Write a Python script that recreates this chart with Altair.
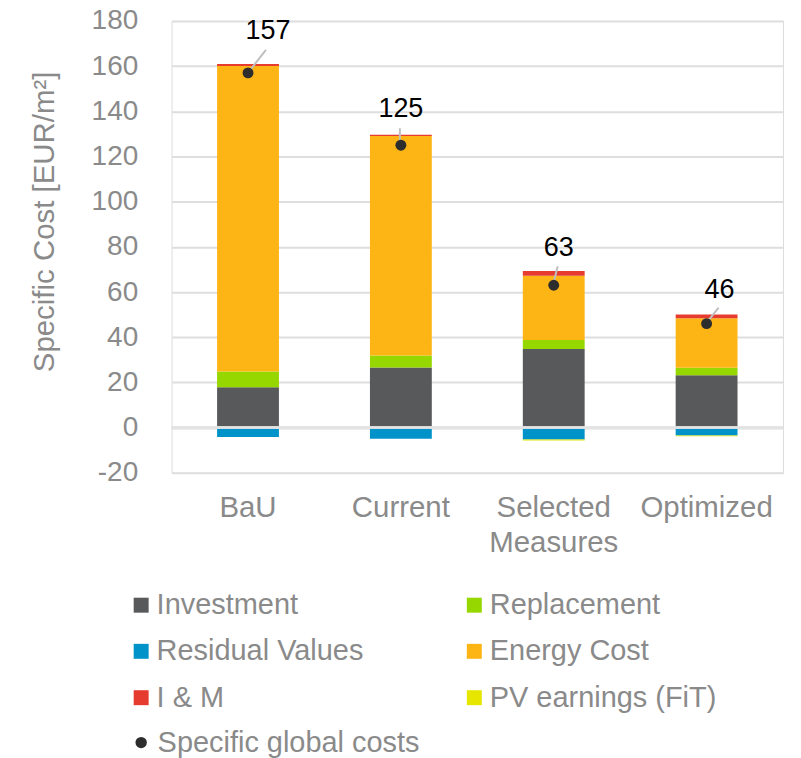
import altair as alt
import pandas as pd

# ---- data ----
categories = ["BaU", "Current", "Selected Measures", "Optimized"]
series_names = ["Investment", "Replacement", "Residual Values", "Energy Cost", "I & M", "PV earnings (FiT)"]
investment = [17.8, 26.6, 34.8, 23.2]
replacement = [7.0, 5.3, 4.0, 3.3]
residual_values = [-4.2, -4.9, -5.3, -3.5]
energy_cost = [135.3, 97.2, 28.4, 21.9]
i_and_m = [0.8, 0.5, 2.1, 1.7]
pv_earnings = [0.0, 0.0, -0.4, -0.3]
global_costs = [157, 125, 63, 46]
y_ticks = [-20, 0, 20, 40, 60, 80, 100, 120, 140, 160, 180]

# ---- style (colours, pixel offsets of the moved data labels and their leader lines) ----
colors = {
    "Investment": "#58595b",
    "Replacement": "#97d700",
    "Residual Values": "#0093c9",
    "Energy Cost": "#fdb515",
    "I & M": "#e63c2f",
    "PV earnings (FiT)": "#e6e600",
}
# legend is filled column by column, so list it in that order to read row by row
legend_order = ["Investment", "Residual Values", "I & M", "Replacement", "Energy Cost", "PV earnings (FiT)"]
label_dx = [20, 0, 5, 13]
label_dy = [-42, -36, -37, -34]
leader_x1 = [3, -1, 0, 1]
leader_y1 = [-4, -4, -3, -2]
leader_x2 = [18, -1, 4, 12]
leader_y2 = [-23, -17, -19, -16]

GRAY = "#8a8a8a"
FONT = "Liberation Sans"

series_values = [investment, replacement, residual_values, energy_cost, i_and_m, pv_earnings]
rows = []
for k, (name, vals) in enumerate(zip(series_names, series_values)):
    for i, c in enumerate(categories):
        rows.append({"category": c, "series": name, "value": vals[i], "order": k})
bars_df = pd.DataFrame(rows)

pts_df = pd.DataFrame({
    "category": categories,
    "cost": global_costs,
    "legend": ["Specific global costs"] * len(categories),
    "ldx": label_dx, "ldy": label_dy,
    "x1": leader_x1, "y1": leader_y1, "x2": leader_x2, "y2": leader_y2,
})

x_enc = alt.X(
    "category:N",
    sort=categories,
    scale=alt.Scale(paddingInner=0, paddingOuter=0),
    axis=alt.Axis(
        title=None, labelAngle=0, labelFontSize=29.5, labelColor=GRAY, labelFont=FONT,
        ticks=False, domain=False, grid=False, labelPadding=21, labelLineHeight=34.5,
        labelExpr="datum.label == 'Selected Measures' ? ['Selected', 'Measures'] : datum.label",
    ),
)

bars = alt.Chart(bars_df).mark_bar(width=62).encode(
    x=x_enc,
    y=alt.Y(
        "value:Q",
        stack="zero",
        scale=alt.Scale(domain=[-20, 180], nice=False),
        axis=alt.Axis(
            values=y_ticks, title="Specific Cost [EUR/m²]", titleFontSize=29.5, titleColor=GRAY,
            titleFont=FONT, titleFontWeight="normal", titleX=-127, titleY=201, titleAngle=270,
            titleBaseline="middle", titleAlign="center",
            labelFontSize=28, labelColor=GRAY, labelFont=FONT, labelPadding=34,
            labelExpr="'' + datum.value",
            ticks=False, domain=False, grid=True, gridColor="#dedede", gridWidth=2,
        ),
    ),
    color=alt.Color(
        "series:N",
        scale=alt.Scale(domain=legend_order, range=[colors[s] for s in legend_order]),
        legend=alt.Legend(
            title=None, orient="none", legendX=-45, legendY=571, columns=2,
            columnPadding=96, rowPadding=16.5, symbolType="square", symbolSize=225,
            symbolStrokeWidth=0, labelFontSize=29, labelColor=GRAY, labelFont=FONT,
            labelOffset=1, labelLimit=400, padding=0,
        ),
    ),
    order=alt.Order("order:Q"),
)

zero_rule = alt.Chart(pts_df).mark_rule(color="#e3e3e3", strokeWidth=2).encode(y=alt.datum(0))

leaders = alt.Chart(pts_df).mark_rule(
    color="#bfbfbf", strokeWidth=2,
    xOffset=alt.expr("datum.x1"), x2Offset=alt.expr("datum.x2"),
    yOffset=alt.expr("datum.y1"), y2Offset=alt.expr("datum.y2"),
).encode(
    x=alt.X("category:N", sort=categories),
    x2=alt.X2("category:N"),
    y=alt.Y("cost:Q"),
    y2=alt.Y2("cost:Q"),
)

points = alt.Chart(pts_df).mark_point(filled=True, size=120, color="#2d2d2d", opacity=1).encode(
    x=alt.X("category:N", sort=categories),
    y=alt.Y("cost:Q"),
    shape=alt.Shape(
        "legend:N",
        scale=alt.Scale(range=["circle"]),
        legend=alt.Legend(
            title=None, orient="none", legendX=-45, legendY=709, symbolSize=130,
            symbolFillColor="#2d2d2d", symbolStrokeWidth=0, labelFontSize=29,
            labelColor=GRAY, labelFont=FONT, labelOffset=2, labelLimit=400, padding=0,
        ),
    ),
)

labels = alt.Chart(pts_df).mark_text(
    fontSize=27, font=FONT, color="#000000", baseline="middle", align="center",
    dx=alt.expr("datum.ldx"), dy=alt.expr("datum.ldy"),
).encode(
    x=alt.X("category:N", sort=categories),
    y=alt.Y("cost:Q"),
    text=alt.Text("cost:Q", format="d"),
)

chart = alt.layer(bars, zero_rule, leaders, points, labels).resolve_legend(
    color="independent", shape="independent"
).properties(
    width=613,
    height=453,
    autosize="none",
    padding={"left": 164, "top": 12, "right": 10, "bottom": 285},
).configure_view(stroke=None).configure(font=FONT)

chart.save("out.html", embed_options={"renderer": "svg", "actions": False})
